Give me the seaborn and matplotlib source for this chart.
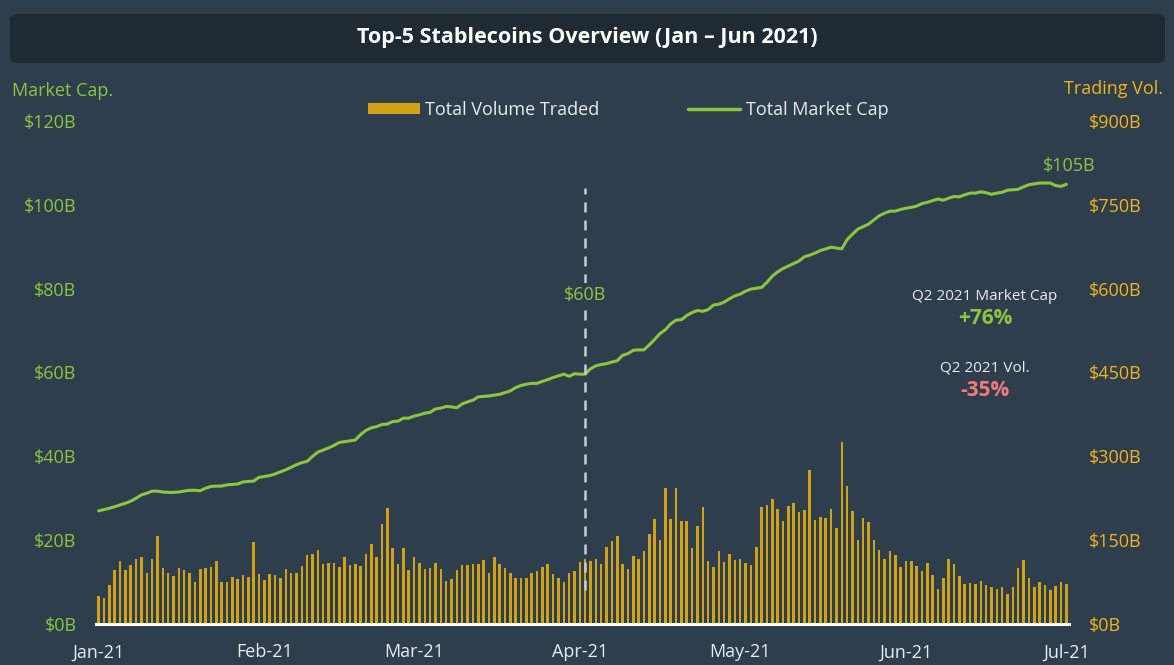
import numpy as np
import pandas as pd
import matplotlib
matplotlib.use("Agg")
import matplotlib.pyplot as plt
from matplotlib.patches import FancyBboxPatch, Patch
from matplotlib.lines import Line2D
import seaborn as sns

# ---------------- data (daily, 2021-01-01 .. 2021-07-01) ----------------
start_date = "2021-01-01"
month_labels = ["Jan-21", "Feb-21", "Mar-21", "Apr-21", "May-21", "Jun-21", "Jul-21"]

# Total volume traded ($B, right axis)
volume = [50, 46, 69, 97, 112, 96, 105, 116, 120, 91, 116, 158, 101, 91, 86, 101, 96, 91, 76, 98,
          101, 102, 113, 75, 76, 84, 80, 88, 84, 147, 89, 78, 89, 88, 83, 99, 91, 91, 104, 123,
          125, 132, 108, 110, 110, 102, 119, 105, 107, 103, 125, 143, 119, 179, 207, 136, 107, 136, 96, 119,
          110, 98, 101, 110, 98, 77, 80, 96, 105, 106, 107, 108, 114, 91, 120, 108, 101, 92, 83, 83,
          82, 92, 95, 102, 108, 89, 82, 76, 91, 94, 111, 117, 112, 116, 107, 137, 148, 157, 107, 98,
          122, 116, 130, 161, 187, 150, 243, 188, 243, 184, 184, 136, 176, 209, 112, 102, 131, 111, 125, 115,
          117, 110, 106, 137, 210, 213, 223, 206, 185, 212, 216, 201, 204, 276, 186, 191, 190, 206, 172, 325,
          247, 203, 150, 190, 182, 150, 132, 116, 130, 123, 102, 113, 112, 104, 94, 109, 87, 63, 82, 116,
          108, 85, 71, 73, 71, 77, 70, 67, 63, 66, 53, 67, 101, 114, 83, 66, 75, 70, 61, 68,
          75, 71]

# Total market cap ($B, left axis)
market_cap = [27.0, 27.3, 27.6, 28.0, 28.4, 28.8, 29.3, 30.0, 30.8, 31.2, 31.7, 31.7, 31.5, 31.4, 31.4, 31.5,
              31.7, 31.9, 31.9, 31.8, 32.4, 32.8, 32.9, 32.9, 33.2, 33.3, 33.4, 33.9, 34.0, 34.1, 35.0, 35.2,
              35.4, 35.8, 36.3, 36.8, 37.4, 38.0, 38.5, 38.8, 40.0, 41.0, 41.5, 42.0, 42.6, 43.3, 43.5, 43.7,
              43.9, 45.2, 46.2, 46.8, 47.1, 47.6, 47.7, 48.3, 48.4, 49.1, 49.1, 49.6, 49.9, 50.3, 50.5, 51.3,
              51.5, 51.9, 51.8, 51.6, 52.5, 53.0, 53.4, 54.2, 54.3, 54.4, 54.6, 54.8, 55.2, 55.6, 56.4, 56.9,
              57.2, 57.4, 57.4, 57.9, 58.3, 58.8, 59.2, 59.6, 59.1, 59.7, 59.6, 59.6, 60.9, 61.6, 61.9, 62.1,
              62.5, 62.8, 64.1, 64.5, 65.3, 65.4, 65.4, 66.6, 67.9, 69.3, 70.2, 71.6, 72.5, 72.6, 73.6, 74.3,
              74.8, 74.6, 75.0, 76.1, 76.3, 76.8, 77.6, 78.3, 78.7, 79.4, 79.9, 80.1, 80.3, 81.5, 83.0, 84.0,
              84.8, 85.4, 86.0, 86.6, 87.6, 88.0, 88.5, 89.1, 89.5, 89.9, 89.7, 89.5, 91.7, 93.0, 94.2, 94.8,
              95.4, 96.4, 97.4, 98.0, 98.5, 98.5, 98.9, 99.2, 99.4, 99.7, 100.3, 100.6, 101.0, 101.4, 101.1, 101.6,
              102.0, 101.9, 102.4, 102.8, 102.8, 103.1, 102.9, 102.5, 102.8, 103.0, 103.5, 103.6, 103.7, 104.3, 104.8, 105.0,
              105.2, 105.2, 105.2, 104.6, 104.4, 104.9]

left_ticks = [0, 20, 40, 60, 80, 100, 120]
left_labels = ["$0B", "$20B", "$40B", "$60B", "$80B", "$100B", "$120B"]
right_ticks = [0, 150, 300, 450, 600, 750, 900]
right_labels = ["$0B", "$150B", "$300B", "$450B", "$600B", "$750B", "$900B"]

q2_marker_day = 91          # dashed Q2 marker position (day index)
q2_line_range = (8, 104)    # vertical extent, in market-cap units
title = "Top-5 Stablecoins Overview (Jan – Jun 2021)"

# ---------------- styling ----------------
BG = "#2e3e4d"
TITLE_BG = "#1f2a33"
GREEN = "#8cc63f"
GOLD = "#d0a316"
GOLD_TXT = "#f0b41c"
WHITE = "#e9ecef"
RED = "#f07b7b"

sns.set_theme(style="white")
plt.rcParams["font.family"] = ["Open Sans", "DejaVu Sans"]

dates = pd.date_range(start_date, periods=len(volume), freq="D")
day = (dates - dates[0]).days.values
df = pd.DataFrame({"day": day, "volume": volume, "market_cap": market_cap})
month_starts = [i for i, d in enumerate(dates) if d.day == 1]

W, H = 1174, 665
fig = plt.figure(figsize=(W / 100, H / 100), dpi=100, facecolor=BG)
ax = fig.add_axes([96 / W, 1 - 624 / H, (1069 - 96) / W, (624 - 121) / H])
ax.set_facecolor(BG)
ax2 = ax.twinx()
ax2.set_facecolor("none")

sns.lineplot(data=df, x="day", y="market_cap", ax=ax, color=GREEN, linewidth=2.2)
sns.barplot(data=df, x="day", y="volume", ax=ax2, native_scale=True, color=GOLD,
            width=0.48, errorbar=None, saturation=1, linewidth=0)

ax.set_xlim(-0.5, len(volume) - 0.5)
ax.set_ylim(0, 120)
ax2.set_ylim(0, 900)
ax.set_xlabel("")
ax.set_ylabel("")
ax2.set_xlabel("")
ax2.set_ylabel("")

ax.set_xticks(month_starts)
ax.set_xticklabels(month_labels[:len(month_starts)])
ax.set_yticks(left_ticks)
ax.set_yticklabels(left_labels)
ax2.set_yticks(right_ticks)
ax2.set_yticklabels(right_labels)

ax.tick_params(axis="x", length=0, pad=14, labelsize=13, labelcolor=WHITE)
ax.tick_params(axis="y", length=0, pad=14, labelsize=13, labelcolor=GREEN)
ax2.tick_params(axis="y", length=0, pad=14, labelsize=13, labelcolor=GOLD_TXT)
for a in (ax, ax2):
    for s in a.spines.values():
        s.set_visible(False)
ax2.spines["bottom"].set_visible(True)
ax2.spines["bottom"].set_color("white")
ax2.spines["bottom"].set_linewidth(2.2)

# Q2 dashed marker (on bar axis so it sits over bars)
ax2.plot([q2_marker_day, q2_marker_day],
         [q2_line_range[0] * 7.5, q2_line_range[1] * 7.5],
         color="#c9ccd0", linestyle=(0, (4, 3.2)), linewidth=1.8, zorder=5)

def fx(x):
    return x / W

def fy(y):
    return 1 - y / H

# Title bar
fig.patches.append(FancyBboxPatch((fx(10), fy(63)), fx(1165) - fx(10), fy(14) - fy(63),
                                  boxstyle="round,pad=0,rounding_size=0.008",
                                  transform=fig.transFigure, facecolor=TITLE_BG,
                                  edgecolor="none", zorder=0))
fig.text(0.5, fy(38), title, ha="center", va="center", color="white",
         fontsize=15.5, fontweight="bold")

# Axis titles
fig.text(fx(12), fy(91), "Market Cap.", ha="left", va="center", color=GREEN, fontsize=13)
fig.text(fx(1163), fy(89), "Trading Vol.", ha="right", va="center", color=GOLD_TXT, fontsize=13)

# Legend
handles = [Patch(facecolor=GOLD, edgecolor="none", label="Total Volume Traded"),
           Line2D([0], [0], color=GREEN, linewidth=2.5, label="Total Market Cap")]
fig.legend(handles=handles, loc="center", bbox_to_anchor=(fx(628), fy(110)), ncol=2,
           frameon=False, fontsize=13, labelcolor=WHITE, handlelength=2.9,
           handleheight=0.55, handletextpad=0.3, columnspacing=4.9)

# Value labels
bbox = dict(facecolor=BG, edgecolor="none", pad=2)
fig.text(fx(585), fy(295), "$60B", ha="center", va="center", color=GREEN, fontsize=13, bbox=bbox)
fig.text(fx(1069), fy(166), "$105B", ha="center", va="center", color=GREEN, fontsize=13, bbox=bbox)

# Q2 annotations
fig.text(fx(985), fy(296), "Q2 2021 Market Cap", ha="center", va="center", color=WHITE, fontsize=11)
fig.text(fx(985), fy(318), "+76%", ha="center", va="center", color=GREEN, fontsize=15, fontweight="bold")
fig.text(fx(985), fy(368), "Q2 2021 Vol.", ha="center", va="center", color=WHITE, fontsize=11)
fig.text(fx(985), fy(391), "-35%", ha="center", va="center", color=RED, fontsize=15, fontweight="bold")

fig.savefig("out.png", dpi=100, facecolor=BG)
